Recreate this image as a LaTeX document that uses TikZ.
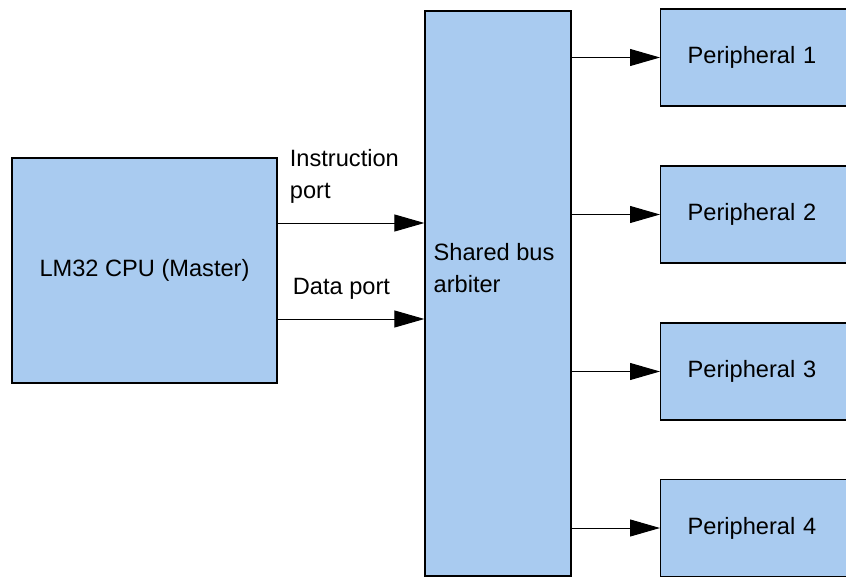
\documentclass[tikz,border=0pt]{standalone}
\usepackage{fontspec}
\setmainfont{Liberation Sans}
\usepackage[HTML]{xcolor}
\usetikzlibrary{positioning, arrows.meta}
\definecolor{boxblue}{HTML}{A9CBF0}

\begin{document}
\begin{tikzpicture}[
  font=\fontsize{16.8}{22.8}\selectfont,
  blk/.style={draw, line width=0.9pt, fill=boxblue, inner sep=0pt},
  lbl/.style={inner sep=0pt, align=left},
  arr/.style={line width=0.7pt, -{Triangle[length=0.75cm,width=0.425cm]}}
]
\clip (0,0) rectangle (21.15,14.45);

% master
\node[blk, minimum width=6.625cm, minimum height=5.625cm] (cpu) at (3.6125,7.6875) {LM32 CPU (Master)};

% arbiter
\node[blk, minimum width=3.65cm, minimum height=14.125cm] (bus) at (12.45,7.1125) {};
\node[lbl, anchor=west] (bustxt) at ([xshift=0.225cm,yshift=0.64cm]bus.west) {Shared bus\\arbiter};

% master ports
\coordinate (ins) at ([yshift=1.1875cm]cpu.east);
\coordinate (dat) at ([yshift=-1.2125cm]cpu.east);
\draw[arr] (ins) -- (bus.west |- ins);
\draw[arr] (dat) -- (bus.west |- dat);
\node[lbl, anchor=south west] (inslbl) at ([xshift=0.3cm,yshift=0.48cm]ins) {Instruction\\port};
\node[lbl, anchor=south west] (datlbl) at ([xshift=0.375cm,yshift=0.48cm]dat) {Data port};

% peripherals
\foreach \i/\y in {1/13.0125, 2/9.0875, 3/5.1625, 4/1.25} {
  \node[blk, anchor=west, minimum width=5.5cm, minimum height=2.425cm,
        text width=4.15cm, inner xsep=0.675cm, align=left] (p\i) at (16.5,\y) {Peripheral \i};
  \draw[arr] (bus.east |- p\i.west) -- (p\i.west);
}
\end{tikzpicture}
\end{document}
